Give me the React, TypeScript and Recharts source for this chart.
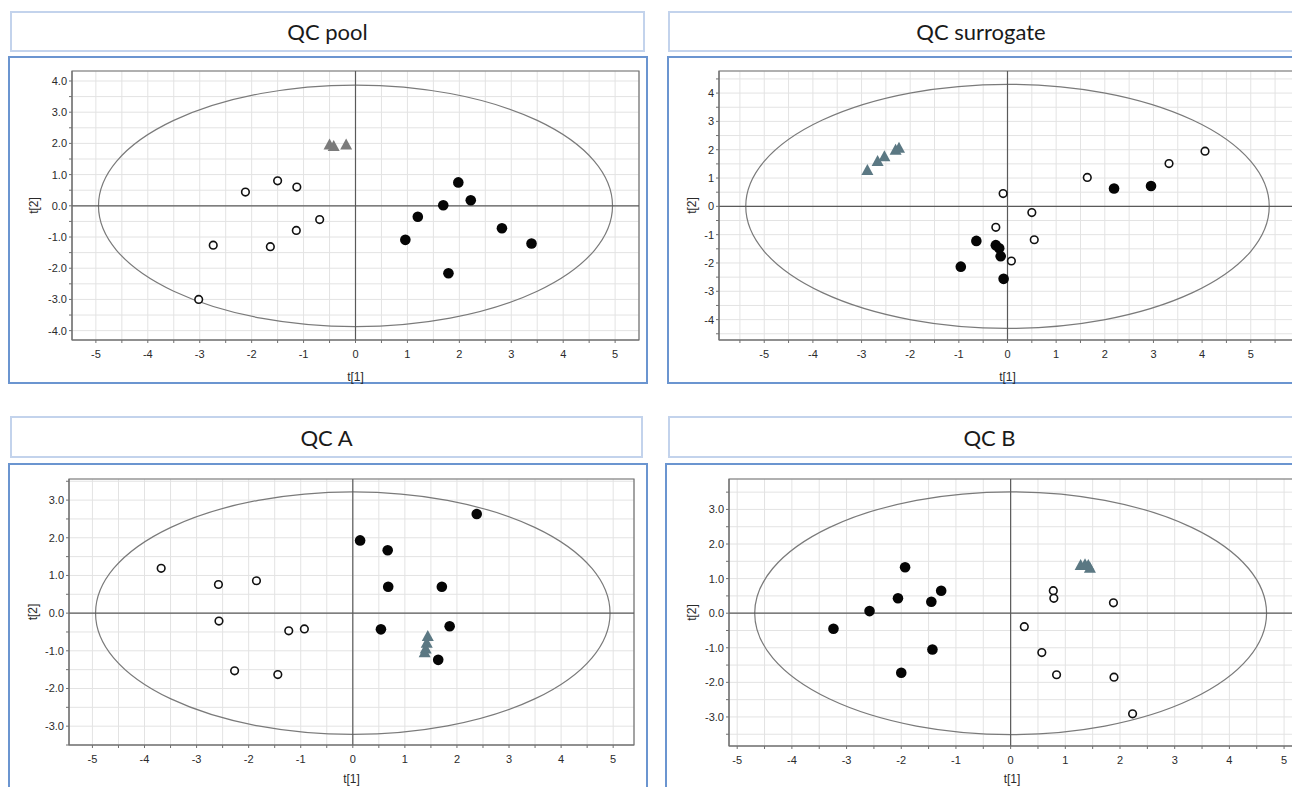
import React from "react";
import {
  ScatterChart,
  Scatter,
  XAxis,
  YAxis,
  CartesianGrid,
  ReferenceLine,
  ReferenceArea,
} from "recharts";

// QC pool
const poolTriangles = [[-0.5, 1.95], [-0.42, 1.9], [-0.18, 1.95]];
const poolOpen = [[-2.12, 0.44], [-1.5, 0.8], [-1.13, 0.6], [-0.69, -0.44], [-1.14, -0.79], [-1.64, -1.31], [-2.74, -1.26], [-3.02, -3.0]];
const poolFilled = [[1.98, 0.75], [2.22, 0.18], [1.69, 0.02], [1.2, -0.35], [0.96, -1.09], [2.82, -0.72], [3.39, -1.21], [1.79, -2.16]];
const poolEllipse = [4.95, 3.87];

// QC surrogate
const surrTriangles = [[-2.88, 1.27], [-2.67, 1.58], [-2.53, 1.75], [-2.3, 1.98], [-2.23, 2.05]];
const surrOpen = [[-0.09, 0.45], [0.5, -0.22], [-0.24, -0.74], [0.55, -1.18], [0.08, -1.93], [1.64, 1.02], [3.32, 1.51], [4.06, 1.95]];
const surrFilled = [[-0.64, -1.22], [-0.24, -1.37], [-0.17, -1.48], [-0.14, -1.76], [-0.96, -2.13], [-0.08, -2.56], [2.19, 0.63], [2.95, 0.72]];
const surrEllipse = [5.38, 4.31];

// QC A
const aTriangles = [[1.44, -0.62], [1.42, -0.8], [1.4, -0.95], [1.38, -1.05]];
const aOpen = [[-3.68, 1.19], [-2.58, 0.76], [-1.85, 0.86], [-2.57, -0.21], [-1.23, -0.47], [-0.93, -0.42], [-2.27, -1.53], [-1.44, -1.63]];
const aFilled = [[0.14, 1.93], [0.67, 1.67], [0.68, 0.7], [1.71, 0.7], [2.38, 2.63], [0.54, -0.43], [1.86, -0.35], [1.64, -1.24]];
const aEllipse = [4.94, 3.22];

// QC B
const bTriangles = [[1.28, 1.38], [1.36, 1.4], [1.42, 1.38], [1.45, 1.3]];
const bOpen = [[0.78, 0.65], [0.79, 0.43], [1.88, 0.3], [0.25, -0.39], [0.57, -1.14], [0.84, -1.78], [1.89, -1.85], [2.23, -2.91]];
const bFilled = [[-1.93, 1.33], [-1.27, 0.65], [-2.06, 0.43], [-1.45, 0.33], [-2.58, 0.06], [-3.24, -0.45], [-1.43, -1.05], [-2.0, -1.72]];
const bEllipse = [4.68, 3.51];

const toData = (pts: number[][]) => pts.map(([x, y]) => ({ x, y }));

const halfSteps = (min: number, max: number) => {
  const out: number[] = [];
  for (let v = Math.ceil(min * 2) / 2; v <= max + 1e-9; v += 0.5) out.push(v);
  return out;
};

const GRID = "#e3e3e3";
const AXIS = "#707070";
const tickFont = { fontSize: 11, fill: "#2a2a2a", fontFamily: "Liberation Sans, Arial, sans-serif" };

const OpenDot = (p: any) => (
  <circle cx={p.cx} cy={p.cy} r={3.8} fill="#fff" stroke="#111" strokeWidth={1.6} />
);
const FilledDot = (p: any) => <circle cx={p.cx} cy={p.cy} r={5.3} fill="#050505" />;
const makeTriangle = (color: string) => (p: any) => (
  <path
    d={`M${p.cx},${p.cy - 6.5} L${p.cx + 6},${p.cy + 4.5} L${p.cx - 6},${p.cy + 4.5} Z`}
    fill={color}
  />
);

const EllipseShape = (p: any) => (
  <ellipse
    cx={p.x + p.width / 2}
    cy={p.y + p.height / 2}
    rx={p.width / 2}
    ry={p.height / 2}
    fill="none"
    stroke="#7a7a7a"
    strokeWidth={1.2}
  />
);

interface PanelProps {
  title: string;
  titleBox: [number, number, number, number];
  box: [number, number, number, number];
  chart: { left: number; top: number; width: number; height: number; yw: number; xh: number };
  xDomain: [number, number];
  yDomain: [number, number];
  yDecimals: number;
  ellipse: number[];
  triangles: number[][];
  open: number[][];
  filled: number[][];
  triColor: string;
  yLabelOffset: number;
  xLabelOffset: number;
}

const Panel = (props: PanelProps) => {
  const { title, titleBox, box, chart, xDomain, yDomain, yDecimals, ellipse } = props;
  const xTicks = halfSteps(xDomain[0], xDomain[1]);
  const yTicks = halfSteps(yDomain[0], yDomain[1]);
  return (
    <>
      <div
        style={{
          position: "absolute",
          left: titleBox[0],
          top: titleBox[1],
          width: titleBox[2],
          height: titleBox[3],
          boxSizing: "border-box",
          border: "2px solid #c3d3ec",
          display: "flex",
          alignItems: "center",
          justifyContent: "center",
          fontFamily: "Lato, 'Open Sans', sans-serif",
          fontSize: 22,
          color: "#1a1a1a",
        }}
      >
        {title}
      </div>
      <div
        style={{
          position: "absolute",
          left: box[0],
          top: box[1],
          width: box[2],
          height: box[3],
          boxSizing: "border-box",
          border: "2px solid #6b95d0",
        }}
      />
      <div style={{ position: "absolute", left: chart.left, top: chart.top }}>
        <ScatterChart
          width={chart.width}
          height={chart.height}
          margin={{ top: 12, right: 4, bottom: 0, left: 0 }}
        >
          <CartesianGrid stroke={GRID} strokeWidth={1} />
          <XAxis
            type="number"
            dataKey="x"
            domain={xDomain}
            allowDataOverflow
            ticks={xTicks}
            interval={0}
            height={chart.xh}
            stroke={AXIS}
            tickSize={3}
            tickMargin={7}
            tick={tickFont}
            tickFormatter={(v: number) => (Number.isInteger(v) ? String(v) : "")}
            label={{
              value: "t[1]",
              position: "insideBottom",
              offset: props.xLabelOffset,
              style: { ...tickFont, fontSize: 12 },
            }}
          />
          <YAxis
            type="number"
            dataKey="y"
            domain={yDomain}
            allowDataOverflow
            ticks={yTicks}
            interval={0}
            width={chart.yw}
            stroke={AXIS}
            tickSize={3}
            tickMargin={2}
            tick={tickFont}
            tickFormatter={(v: number) => (Number.isInteger(v) ? v.toFixed(yDecimals) : "")}
            label={{
              value: "t[2]",
              angle: -90,
              position: "insideLeft",
              offset: props.yLabelOffset,
              style: { ...tickFont, fontSize: 12, textAnchor: "middle" },
            }}
          />
          <ReferenceArea
            x1={xDomain[0]}
            x2={xDomain[1]}
            y1={yDomain[0]}
            y2={yDomain[1]}
            fill="none"
            stroke={AXIS}
            strokeWidth={1.2}
            fillOpacity={0}
          />
          <ReferenceArea
            x1={-ellipse[0]}
            x2={ellipse[0]}
            y1={-ellipse[1]}
            y2={ellipse[1]}
            shape={EllipseShape}
          />
          <ReferenceLine x={0} stroke="#5a5a5a" strokeWidth={1.2} />
          <ReferenceLine y={0} stroke="#5a5a5a" strokeWidth={1.2} />
          <Scatter data={toData(props.open)} shape={OpenDot} isAnimationActive={false} />
          <Scatter data={toData(props.filled)} shape={FilledDot} isAnimationActive={false} />
          <Scatter data={toData(props.triangles)} shape={makeTriangle(props.triColor)} isAnimationActive={false} />
        </ScatterChart>
      </div>
    </>
  );
};

export default function App() {
  return (
    <div
      style={{
        position: "fixed",
        left: 0,
        top: 0,
        width: 1292,
        height: 787,
        overflow: "hidden",
        background: "#fff",
      }}
    >
      <Panel
        title="QC pool"
        titleBox={[10, 11, 635, 41]}
        box={[8, 56, 640, 328]}
        chart={{ left: 10, top: 59, width: 633, height: 325, yw: 62, xh: 44 }}
        xDomain={[-5.46, 5.46]}
        yDomain={[-4.3, 4.32]}
        yDecimals={1}
        ellipse={poolEllipse}
        triangles={poolTriangles}
        open={poolOpen}
        filled={poolFilled}
        triColor="#7b7b7b"
        yLabelOffset={24}
        xLabelOffset={3}
      />
      <Panel
        title="QC surrogate"
        titleBox={[668, 11, 626, 41]}
        box={[667, 56, 640, 328]}
        chart={{ left: 669, top: 59, width: 631, height: 325, yw: 50, xh: 44 }}
        xDomain={[-5.93, 5.93]}
        yDomain={[-4.72, 4.78]}
        yDecimals={0}
        ellipse={surrEllipse}
        triangles={surrTriangles}
        open={surrOpen}
        filled={surrFilled}
        triColor="#5b7883"
        yLabelOffset={23}
        xLabelOffset={3}
      />
      <Panel
        title="QC A"
        titleBox={[10, 416, 633, 42]}
        box={[8, 463, 640, 335]}
        chart={{ left: 10, top: 467, width: 628, height: 323, yw: 59, xh: 45 }}
        xDomain={[-5.45, 5.4]}
        yDomain={[-3.5, 3.56]}
        yDecimals={1}
        ellipse={aEllipse}
        triangles={aTriangles}
        open={aOpen}
        filled={aFilled}
        triColor="#5b7883"
        yLabelOffset={23}
        xLabelOffset={7}
      />
      <Panel
        title="QC B"
        titleBox={[668, 416, 643, 42]}
        box={[665, 463, 640, 335]}
        chart={{ left: 667, top: 467, width: 632, height: 323, yw: 62, xh: 44 }}
        xDomain={[-5.15, 5.2]}
        yDomain={[-3.84, 3.88]}
        yDecimals={1}
        ellipse={bEllipse}
        triangles={bTriangles}
        open={bOpen}
        filled={bFilled}
        triColor="#5b7883"
        yLabelOffset={25}
        xLabelOffset={7}
      />
    </div>
  );
}
